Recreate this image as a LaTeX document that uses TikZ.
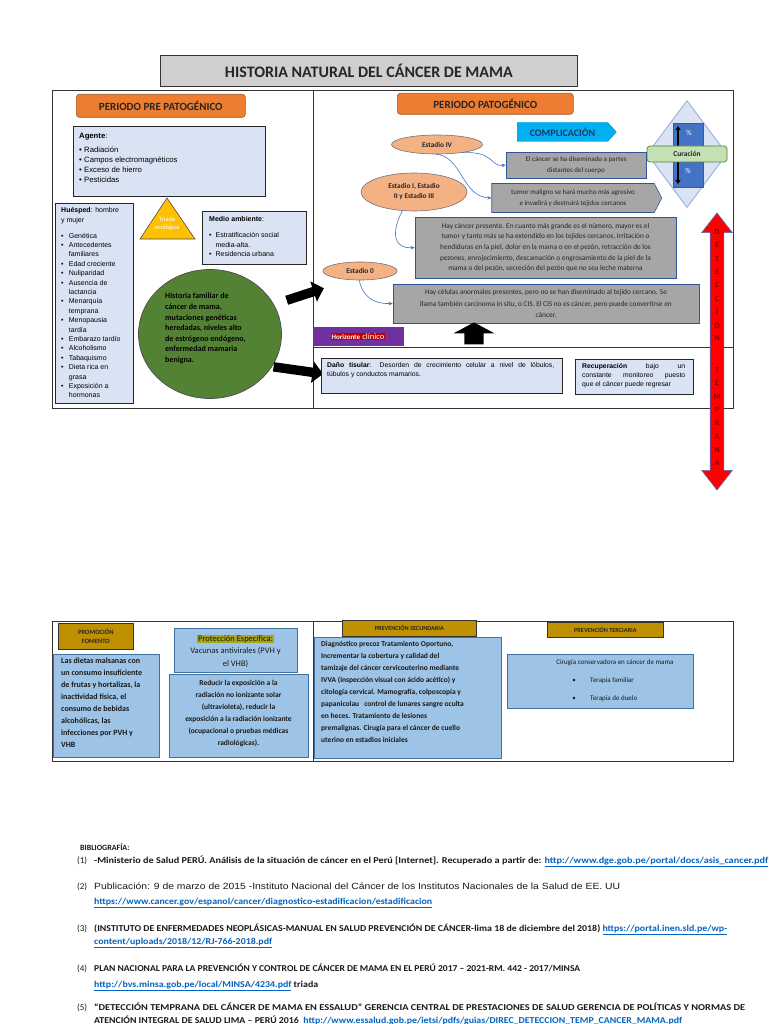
\documentclass[tikz,border=0pt]{standalone}
\usepackage{fontspec}
\setmainfont{Carlito}
\newfontfamily\arial{Liberation Sans}
\usepackage{graphicx}
\usetikzlibrary{shapes.geometric,shapes.arrows,shapes.symbols,arrows.meta}
\newcommand{\fsz}[2]{\fontsize{#1}{#2}\selectfont}
\newcommand{\bul}[1][6pt]{\makebox[#1][l]{•}}
\newcommand{\ind}[1][6pt]{\hspace*{#1}}
\newcommand{\fitw}[2]{\resizebox{#1}{\height}{#2}}
\definecolor{titlegray}{HTML}{D0CECE}
\definecolor{orng}{HTML}{ED7D31}
\definecolor{lbl}{HTML}{DAE3F3}
\definecolor{goldt}{HTML}{FFC000}
\definecolor{grn}{HTML}{548235}
\definecolor{peachc}{HTML}{F4B183}
\definecolor{gbox}{HTML}{A6A6A6}
\definecolor{gborder}{HTML}{2F5597}
\definecolor{cyanc}{HTML}{00B0F0}
\definecolor{navy}{HTML}{1F3864}
\definecolor{dborder}{HTML}{8FAADC}
\definecolor{rblue}{HTML}{4472C4}
\definecolor{curg}{HTML}{C5E0B4}
\definecolor{purp}{HTML}{7030A0}
\definecolor{hred}{HTML}{C00000}
\definecolor{redc}{HTML}{FF0000}
\definecolor{maroonc}{HTML}{800000}
\definecolor{goldb}{HTML}{BF9000}
\definecolor{mblue}{HTML}{9DC3E6}
\definecolor{mbord}{HTML}{41719C}
\definecolor{olivec}{HTML}{A5A520}
\definecolor{linkc}{HTML}{0563C1}
\begin{document}
\begin{tikzpicture}[x=1pt,y=-1pt,
  frame/.style={draw=black!80, line width=0.9pt},
  obox/.style={draw=orng!70!black, line width=0.6pt, fill=orng, rounded corners=3pt, inner sep=0, anchor=north west, font=\bfseries\fsz{11}{12}, text=black!85},
  lbox/.style={draw=black!85, line width=0.8pt, fill=lbl, inner sep=0, anchor=north west},
  gbx/.style={draw=gborder, line width=0.7pt, fill=gbox, inner sep=0, align=center, text=black!85},
  pch/.style={ellipse, draw=black!55, line width=0.6pt, fill=peachc, inner sep=0, align=center, font=\bfseries\fsz{7.3}{10}, text=black!85},
  curv/.style={draw=rblue, line width=0.6pt, -{Stealth[length=4pt,width=3.5pt]}},
  mbx/.style={draw=mbord, line width=0.8pt, fill=mblue, inner sep=0, anchor=north west},
  gdb/.style={draw=black!80, line width=0.7pt, fill=goldb, inner sep=0, anchor=north west, align=center, font=\bfseries\fsz{6.5}{9.5}, text=black!85},
  lt/.style={inner sep=0, align=left, anchor=north west},
  blk/.style={single arrow, fill=black, inner xsep=0},
  lett/.style={inner sep=0, font=\bfseries\fsz{8}{9}, text=maroonc},
  bib/.style={inner sep=0, anchor=base west, font=\bfseries\fsz{9}{10}, text=black!90}
]
\path[use as bounding box, fill=white] (0,0) rectangle (768,1024);

% title
\node[draw=black!80, line width=0.8pt, fill=titlegray, minimum width=417, minimum height=31, anchor=north west, inner sep=0, font=\bfseries\fsz{16}{17}, text=black!85] (title) at (160,55) {HISTORIA NATURAL DEL CÁNCER DE MAMA};

% frames top
\draw[frame] (52,90) rectangle (733,408);
\draw[frame] (313,90) -- (313,408);
\draw[frame] (313,347) -- (733,347);

% ---------- pre patogenico ----------
\node[obox, minimum width=169, minimum height=23] (prepat) at (76,94) {PERIODO PRE PATOGÉNICO};

\node[lbox, minimum width=192, minimum height=70] (agente) at (73,126) {};
\node[lt, font=\arial\fsz{7.7}{9.8}] (agtxt) at (79,133) {\textbf{Agente}:\\[4.5pt]
\bul[5pt]Radiación\\
\bul[5pt]Campos electromagnéticos\\
\bul[5pt]Exceso de hierro\\
\bul[5pt]Pesticidas};

\node[lbox, minimum width=78, minimum height=200] (huesped) at (55,203) {};
\node[lt, font=\arial\fsz{7}{9.4}] (hutxt) at (61,207.5) {\textbf{Huésped}: hombre\\ y mujer\\[6.5pt]
\bul[7.7pt]Genética\\
\bul[7.7pt]Antecedentes\\ \ind[7.7pt]familiares\\
\bul[7.7pt]Edad creciente\\
\bul[7.7pt]Nuliparidad\\
\bul[7.7pt]Ausencia de\\ \ind[7.7pt]lactancia\\
\bul[7.7pt]Menarquía\\ \ind[7.7pt]temprana\\
\bul[7.7pt]Menopausia\\ \ind[7.7pt]tardía\\
\bul[7.7pt]Embarazo tardío\\
\bul[7.7pt]Alcoholismo\\
\bul[7.7pt]Tabaquismo\\
\bul[7.7pt]Dieta rica en\\ \ind[7.7pt]grasa\\
\bul[7.7pt]Exposición a\\ \ind[7.7pt]hormonas};

\coordinate (tA) at (167,198);
\coordinate (tB) at (195,239);
\coordinate (tC) at (140,239);
\draw[fill=goldt, draw=black!70, line width=0.6pt] (tA) -- (tB) -- (tC) -- cycle;
\node[inner sep=0, align=center, text=white, font=\fsz{6.5}{8}] (triada) at (167,224) {Triada\\ecológica};

\node[lbox, minimum width=104, minimum height=53] (medio) at (202,211) {};
\node[lt, font=\arial\fsz{7}{9.5}] (metxt) at (209,216) {\textbf{Medio ambiente}:\\[7pt]
\bul[6.4pt]Estratificación social\\ \ind[6.4pt]media-alta.\\
\bul[6.4pt]Residencia urbana};

\node[ellipse, draw=black!70, line width=0.7pt, fill=grn, minimum width=143, minimum height=129, inner sep=0] (hist) at (210,334) {};
\node[lt, font=\bfseries\fsz{8}{10.6}, text=black] (histxt) at (165,293) {Historia familiar de\\cáncer de mama,\\mutaciones genéticas\\heredadas, niveles alto\\de estrógeno endógeno,\\enfermedad mamaria\\benigna.};

\node[blk, minimum height=39, inner ysep=4.5pt, single arrow head extend=6, rotate=18] (arrA) at (303,295) {};
\node[blk, minimum height=50, inner ysep=4.5pt, single arrow head extend=6, rotate=-8] (arrB) at (296,370) {};

% ---------- patogenico ----------
\node[obox, minimum width=176, minimum height=21] (pat) at (397,93) {PERIODO PATOGÉNICO};

\node[signal, signal to=east, signal pointer angle=95, fill=cyanc, draw=cyanc!80!black, line width=0.4pt, minimum width=99, minimum height=19, inner sep=0, font=\bfseries\fsz{10}{11}, text=navy] (comp) at (562.5,132) {COMPLICACIÓN};

\node[diamond, draw=dborder, line width=0.8pt, fill=lbl, minimum width=80, minimum height=107, inner sep=0] (dia) at (687,154) {};
\node[fill=rblue, draw=rblue!80!black, line width=0.4pt, minimum width=30, minimum height=64, inner sep=0, anchor=north west] (pct) at (673,123) {};
\coordinate (upS) at (678,146);
\coordinate (upE) at (678,126);
\coordinate (dnS) at (678,162);
\coordinate (dnE) at (678,184);
\draw[line width=1.8pt, -{Triangle[length=4pt,width=5pt]}] (upS) -- (upE);
\draw[line width=1.8pt, -{Triangle[length=4pt,width=5pt]}] (dnS) -- (dnE);
\node[inner sep=0, text=white, font=\fsz{7.5}{8}] (pc1) at (689,133) {\%};
\node[inner sep=0, text=white, font=\fsz{7.5}{8}] (pc2) at (688,171) {\%};
\node[draw=grn, line width=0.7pt, fill=curg, rounded corners=3pt, minimum width=80, minimum height=16, inner sep=0, font=\bfseries\fsz{7.5}{8}, text=black!85] (cur) at (687,154) {Curación};

\node[pch, minimum width=91, minimum height=19] (e4) at (437,144.5) {Estadio IV};
\node[gbx, minimum width=140, minimum height=26, font=\fsz{7}{11}] (dist) at (576,165) {El cáncer se ha diseminado a partes\\distantes del cuerpo};
\node[signal, signal to=east, signal pointer angle=125, fill=gbox, draw=gborder, line width=0.6pt, minimum width=170, minimum height=29, inner sep=0, align=center, font=\fsz{7}{11}, text=black!85] (tum) at (573,198) {tumor maligno se hará mucho más agresivo\\e invadirá y destruirá tejidos cercanos};
\node[pch, minimum width=106, minimum height=38] (e13) at (414,192) {Estadio I, Estadio\\II y Estadio III};
\node[gbx, minimum width=261, minimum height=61, font=\fsz{7.3}{10.6}] (pres) at (545.5,247.5) {Hay cáncer presente. En cuanto más grande es el número, mayor es el\\tumor y tanto más se ha extendido en los tejidos cercanos, Irritación o\\hendiduras en la piel, dolor en la mama o en el pezón, retracción de los\\pezones, enrojecimiento, descamación o engrosamiento de la piel de la\\mama o del pezón, secreción del pezón que no sea leche materna};
\node[pch, minimum width=74, minimum height=18] (e0) at (360,271) {Estadio 0};
\node[gbx, minimum width=306, minimum height=39, font=\fsz{7.3}{11.5}] (cis) at (546,303.5) {Hay células anormales presentes, pero no se han diseminado al tejido cercano. Se\\llama también carcinoma in situ, o CIS. El CIS no es cáncer, pero puede convertirse en\\cáncer.};

\draw[curv] (e4.-18) .. controls (495,151) and (490,167) .. (dist.west);
\draw[curv] (e4.-95) .. controls (462,156) and (462,197) .. (tum.west);
\draw[curv] (e13.-122) .. controls (390,235) and (395,249) .. (pres.west);
\draw[curv] (e0.-95) .. controls (363,298) and (375,304) .. (cis.west);

% horizonte
\node[fill=purp, minimum width=91, minimum height=19, inner sep=0, anchor=north west] (hor) at (313,327) {};
\node[fill=hred, text=white, inner sep=0.8pt] (hortxt) at (358,336.5) {{\bfseries\fsz{7}{8}Horizonte} {\fsz{8.5}{9}clínico}};
\node[blk, minimum height=22, inner ysep=9.5pt, single arrow head extend=11, single arrow tip angle=124, rotate=90] (upA) at (474,336) {};

\node[lbox, minimum width=241, minimum height=35] (dano) at (321,358) {};
\node[lt, text width=227, align=justify, font=\arial\fsz{6.8}{9}] (danotxt) at (327,362) {\textbf{Daño tisular}: Desorden de crecimiento celular a nivel de lóbulos,\linebreak túbulos y conductos mamarios.};
\node[lbox, minimum width=118, minimum height=35] (recu) at (575,359) {};
\node[lt, text width=103, align=justify, font=\arial\fsz{6.8}{9}] (recutxt) at (582,363) {\textbf{Recuperación} bajo un\linebreak constante monitoreo puesto\linebreak que el cáncer puede regresar};

% red double arrow
\node[double arrow, fill=redc, draw=rblue, line width=0.6pt, minimum height=277, inner xsep=0, inner ysep=6.5pt, double arrow head extend=8.5, double arrow tip angle=76, rotate=90] (det) at (717,351.5) {};
\foreach \c [count=\i] in {D,E,T,E,C,C,I,Ó,N}
  \node[lett] (dl\i) at (717,{218.7+13.3*\i}) {\c};
\foreach \c [count=\i] in {T,E,M,P,R,A,N,A}
  \node[lett] (tl\i) at (717,{356.7+13.3*\i}) {\c};

% ---------- bottom section ----------
\draw[frame] (52,621) rectangle (733,761);
\draw[frame] (313,621) -- (313,761);

\node[gdb, minimum width=75, minimum height=26] (promo) at (58,623) {PROMOCIÓN\\FOMENTO};
\node[mbx, minimum width=106, minimum height=103] (dietas) at (53,654) {};
\node[lt, font=\bfseries\fsz{8}{12}, text=black!90] (dietxt) at (61,658) {Las dietas malsanas con\\un consumo insuficiente\\de frutas y hortalizas, la\\inactividad física, el\\consumo de bebidas\\alcohólicas, las\\infecciones por PVH y\\VHB};

\node[mbx, minimum width=123, minimum height=44] (prot) at (174,628) {};
\node[inner sep=0, align=center, font=\fsz{8.5}{12.5}, text=black!90] (prottxt) at (235.5,651) {{\setlength{\fboxsep}{0.8pt}\colorbox{olivec}{Protección Específica:}}\\Vacunas antivirales (PVH y\\el VHB)};
\node[mbx, minimum width=139, minimum height=83] (reduc) at (169,674) {};
\node[inner sep=0, align=center, font=\bfseries\fsz{7.5}{12}, text=black!90] (redtxt) at (238.5,713) {Reducir la exposición a la\\radiación no ionizante solar\\(ultravioleta), reducir la\\exposición a la radiación ionizante\\(ocupacional o pruebas médicas\\radiológicas).};

\node[gdb, minimum width=134, minimum height=16, font=\bfseries\fsz{6.2}{7}] (psec) at (342,620) {PREVENCIÓN SECUNDARIA};
\node[mbx, minimum width=187, minimum height=121] (diag) at (314,637) {};
\node[lt, font=\bfseries\fsz{7.5}{12}, text=black!90] (diagtxt) at (321,641) {Diagnóstico precoz Tratamiento Oportuno,\\Incrementar la cobertura y calidad del\\tamizaje del cáncer cervicouterino mediante\\IVVA (inspección visual con ácido acético) y\\citología cervical. Mamografía, colposcopía y\\papanicolau\ \ \ control de lunares sangre oculta\\en heces. Tratamiento de lesiones\\premalignas. Cirugía para el cáncer de cuello\\uterino en estadios iniciales};

\node[gdb, minimum width=116, minimum height=15, font=\bfseries\fsz{6.2}{7}] (pter) at (547,622) {PREVENCIÓN TERCIARIA};
\node[mbx, minimum width=186, minimum height=54] (ciru) at (507,654) {};
\node[inner sep=0, font=\fsz{7}{8}, text=black!90] (cirtxt) at (615,663) {Cirugía conservadora en cáncer de mama};
\node[inner sep=0, font=\fsz{7}{8}, text=black!90] (cb1) at (574,681) {•};
\node[inner sep=0, anchor=west, font=\fsz{7}{8}, text=black!90] (ct1) at (590,681) {Terapia familiar};
\node[inner sep=0, font=\fsz{7}{8}, text=black!90] (cb2) at (574,699) {•};
\node[inner sep=0, anchor=west, font=\fsz{7}{8}, text=black!90] (ct2) at (590,699) {Terapia de duelo};

% ---------- bibliography ----------
\node[bib, font=\bfseries\fsz{8}{9}] (bibh) at (80,850) {BIBLIOGRAFÍA:};
\node[bib, font=\fsz{9}{9}] (n1) at (77,863) {(1)};
\node[bib] (b1) at (94,863) {\fitw{674pt}{-Ministerio de Salud PERÚ. Análisis de la situación de cáncer en el Perú [Internet]. Recuperado a partir de: \textcolor{linkc}{\underline{http://www.dge.gob.pe/portal/docs/asis\_cancer.pdf}}}};
\node[bib, font=\fsz{9}{9}] (n2) at (77,889) {(2)};
\node[bib, font=\arial\fsz{9}{10}] (b2) at (94,889) {\fitw{526pt}{Publicación: 9 de marzo de 2015 -Instituto Nacional del Cáncer de los Institutos Nacionales de la Salud de EE. UU}};
\node[bib] (b2l) at (94,904) {\fitw{338pt}{\textcolor{linkc}{\underline{https://www.cancer.gov/espanol/cancer/diagnostico-estadificacion/estadificacion}}}};
\node[bib, font=\fsz{9}{9}] (n3) at (77,931) {(3)};
\node[bib] (b3) at (94,931) {\fitw{633pt}{(INSTITUTO DE ENFERMEDADES NEOPLÁSICAS-MANUAL EN SALUD PREVENCIÓN DE CÁNCER-lima 18 de diciembre del 2018) \textcolor{linkc}{\underline{https://portal.inen.sld.pe/wp-}}}};
\node[bib] (b3l) at (94,944) {\fitw{178pt}{\textcolor{linkc}{\underline{content/uploads/2018/12/RJ-766-2018.pdf}}}};
\node[bib, font=\fsz{9}{9}] (n4) at (77,971) {(4)};
\node[bib] (b4) at (94,971) {\fitw{486pt}{PLAN NACIONAL PARA LA PREVENCIÓN Y CONTROL DE CÁNCER DE MAMA EN EL PERÚ 2017 – 2021-RM. 442 - 2017/MINSA}};
\node[bib] (b4l) at (94,987) {\fitw{224pt}{\textcolor{linkc}{\underline{http://bvs.minsa.gob.pe/local/MINSA/4234.pdf}} triada}};
\node[bib, font=\fsz{9}{9}] (n5) at (77,1010) {(5)};
\node[bib] (b5) at (94,1010) {\fitw{651pt}{“DETECCIÓN TEMPRANA DEL CÁNCER DE MAMA EN ESSALUD” GERENCIA CENTRAL DE PRESTACIONES DE SALUD GERENCIA DE POLÍTICAS Y NORMAS DE}};
\node[bib] (b5l) at (94,1023) {\fitw{588pt}{ATENCIÓN INTEGRAL DE SALUD LIMA – PERÚ 2016\ \ \textcolor{linkc}{\underline{http://www.essalud.gob.pe/ietsi/pdfs/guias/DIREC\_DETECCION\_TEMP\_CANCER\_MAMA.pdf}}}};
\end{tikzpicture}
\end{document}
